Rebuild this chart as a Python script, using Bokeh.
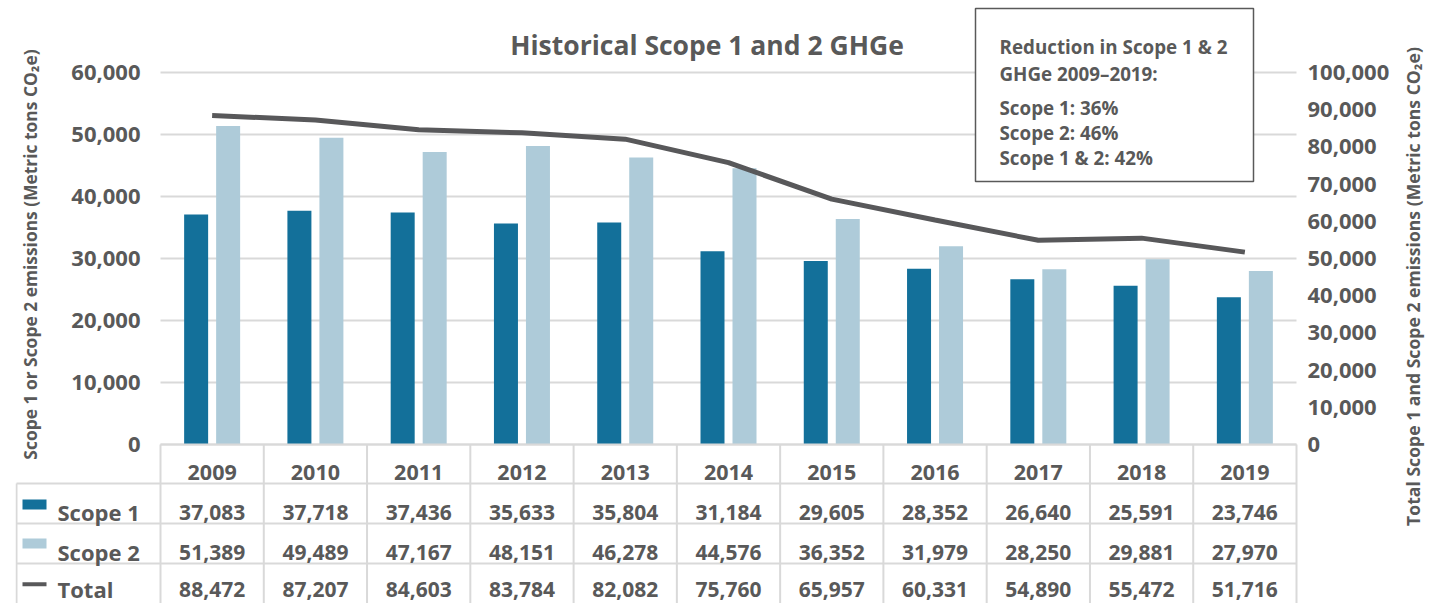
import math
from bokeh.plotting import figure
from bokeh.models import (FactorRange, Range1d, LinearAxis, FixedTicker, NumeralTickFormatter,
                          ColumnDataSource)
from bokeh.transform import dodge
from bokeh.core.properties import value
from bokeh.embed import file_html
from bokeh.resources import INLINE

# ---------------- data ----------------
years = ["2009", "2010", "2011", "2012", "2013", "2014", "2015", "2016", "2017", "2018", "2019"]
scope1 = [37083, 37718, 37436, 35633, 35804, 31184, 29605, 28352, 26640, 25591, 23746]
scope2 = [51389, 49489, 47167, 48151, 46278, 44576, 36352, 31979, 28250, 29881, 27970]
total = [88472, 87207, 84603, 83784, 82082, 75760, 65957, 60331, 54890, 55472, 51716]
left_ticks = [0, 10000, 20000, 30000, 40000, 50000, 60000]
right_ticks = [0, 10000, 20000, 30000, 40000, 50000, 60000, 70000, 80000, 90000, 100000]
series_names = ["Scope 1", "Scope 2", "Total"]
title_text = "Historical Scope 1 and 2 GHGe"
left_title = "Scope 1 or Scope 2 emissions (Metric tons CO\u2082e)"
right_title = "Total Scope 1 and Scope 2 emissions (Metric tons CO\u2082e)"
box_lines = ["Reduction in Scope 1 & 2", "GHGe 2009\u20132019:", "Scope 1: 36%", "Scope 2: 46%", "Scope 1 & 2: 42%"]

# ---------------- style / layout ----------------
C_S1 = "#13709a"
C_S2 = "#aecbd9"
C_TOT = "#58585a"
C_TXT = "#595959"
C_GRID = "#d9d9d9"
FONT = "Open Sans"

W, H = 1441, 603
FX0, FX1 = 160, 1296          # x extent of the year columns (page px)
Y60, Y0 = 72, 444             # pixel rows of 60,000 and 0 on the left axis
n = len(years)
col_w = (FX1 - FX0) / n
pad_px = W - FX1              # same padding on both sides of the categories
frame_left = FX0 - pad_px


def xd(px):
    """page pixel x -> categorical synthetic coordinate"""
    return (px - FX0) / col_w


def yl(py):
    return (Y0 - py) / (Y0 - Y60) * left_ticks[-1]


def yr(py):
    return (Y0 - py) / (Y0 - Y60) * right_ticks[-1]


txt_kw = dict(text_font=value(FONT), text_font_style="bold", text_color=C_TXT)

p = figure(width=W, height=H,
           x_range=FactorRange(*years, range_padding=pad_px / col_w, range_padding_units="absolute"),
           y_range=Range1d(yl(H), yl(0)),
           output_backend="svg", toolbar_location=None, x_axis_location=None,
           min_border_left=frame_left, min_border_right=0, min_border_top=0, min_border_bottom=0)
p.extra_y_ranges = {"total": Range1d(yr(H), yr(0))}
p.outline_line_color = None
p.grid.visible = False


def style_axis(ax, standoff_lbl):
    ax.axis_line_color = None
    ax.major_tick_line_color = None
    ax.minor_tick_line_color = None
    ax.major_tick_out = 0
    ax.major_tick_in = 0
    ax.formatter = NumeralTickFormatter(format="0,0")
    ax.major_label_text_font = FONT
    ax.major_label_text_font_size = "22px"
    ax.major_label_text_font_style = "bold"
    ax.major_label_text_color = C_TXT
    ax.major_label_standoff = standoff_lbl


ax_l = p.yaxis[0]
ax_l.ticker = FixedTicker(ticks=left_ticks)
ax_l.fixed_location = 0
style_axis(ax_l, 20)

ax_r = LinearAxis(y_range_name="total", ticker=FixedTicker(ticks=right_ticks), fixed_location=n)
style_axis(ax_r, 11)
p.add_layout(ax_r, "right")

# gridlines (limited to the year columns)
p.segment(x0=[0] * len(left_ticks), x1=[n] * len(left_ticks), y0=left_ticks, y1=left_ticks,
          line_color=C_GRID, line_width=2)

src = ColumnDataSource(dict(
    year=years, scope1=scope1, scope2=scope2, total=total,
    s1_txt=[f"{v:,}" for v in scope1],
    s2_txt=[f"{v:,}" for v in scope2],
    tot_txt=[f"{v:,}" for v in total],
))

bar_w = 24 / col_w
off = 16 / col_w
p.vbar(x=dodge("year", -off, range=p.x_range), top="scope1", width=bar_w, source=src,
       fill_color=C_S1, line_color=None)
p.vbar(x=dodge("year", off, range=p.x_range), top="scope2", width=bar_w, source=src,
       fill_color=C_S2, line_color=None)
p.line(x="year", y="total", source=src, y_range_name="total", line_color=C_TOT, line_width=5)

# ---------------- title & axis titles ----------------
p.text(x=[xd(706.5)], y=[yl(44.5)], text=[title_text], text_font_size="26.5px",
       text_align="center", text_baseline="alphabetic", **txt_kw)
p.text(x=[xd(29)], y=[yl(254)], text=[left_title], angle=math.pi / 2, text_font_size="17.4px",
       text_align="center", text_baseline="alphabetic", **txt_kw)
p.text(x=[xd(1412)], y=[yl(286)], text=[right_title], angle=math.pi / 2, text_font_size="17.6px",
       text_align="center", text_baseline="alphabetic", **txt_kw)

# ---------------- info box ----------------
p.quad(left=xd(975), right=xd(1253), top=yl(8), bottom=yl(181), fill_color="white",
       line_color=C_TXT, line_width=1.5)
box_base = [46.5, 73, 107, 132, 157]
p.text(x=[xd(999)] * len(box_lines), y=[yl(b) for b in box_base], text=box_lines,
       text_font_size="18.8px", text_align="left", text_baseline="alphabetic", **txt_kw)

# ---------------- data table ----------------
bounds = list(range(n + 1))
tbl_left = xd(frame_left + 1)
hl = [Y0, 483, 523, 563]
p.segment(x0=[0] + [tbl_left] * 3, x1=[n] * 4, y0=[yl(v) for v in hl], y1=[yl(v) for v in hl],
          line_color=C_GRID, line_width=2)
vx = [tbl_left] + bounds
vtop = [483] + [Y0] * len(bounds)
p.segment(x0=vx, x1=vx, y0=[yl(v) for v in vtop], y1=[yl(H + 5)] * len(vx),
          line_color=C_GRID, line_width=2)

p.text(x="year", y=yl(472), text="year", source=src, text_font_size="21.5px",
       text_align="center", text_baseline="alphabetic", **txt_kw)
row_base = [511.5, 551.5, 588.5]
for fld, rb in zip(["s1_txt", "s2_txt", "tot_txt"], row_base):
    p.text(x="year", y=yl(rb), text=fld, source=src, text_font_size="21px",
           text_align="center", text_baseline="alphabetic", **txt_kw)
p.text(x=[xd(57)] * 3, y=[yl(b) for b in row_base], text=series_names, text_font_size="22px",
       text_align="left", text_baseline="alphabetic", **txt_kw)

# legend swatches
p.quad(left=xd(22), right=xd(46), top=yl(499), bottom=yl(509), fill_color=C_S1, line_color=None)
p.quad(left=xd(22), right=xd(46), top=yl(538), bottom=yl(548), fill_color=C_S2, line_color=None)
p.quad(left=xd(22), right=xd(46), top=yl(581.7), bottom=yl(585.7), fill_color=C_TOT, line_color=None)

open("out.html", "w").write(file_html(p, INLINE))
